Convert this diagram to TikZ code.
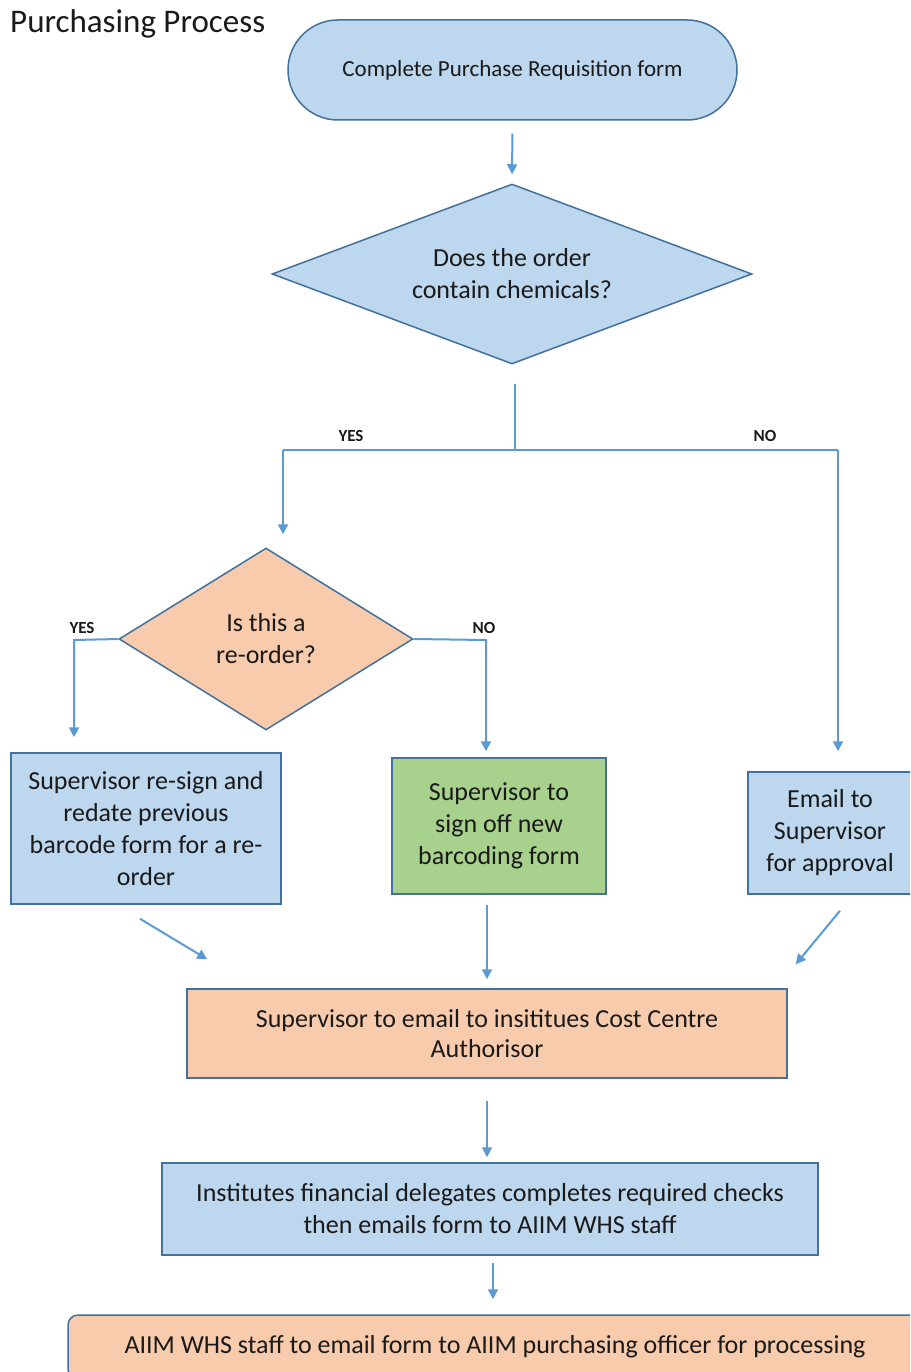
\documentclass[tikz,border=0pt]{standalone}
\usepackage{fontspec}
\setmainfont{Carlito}
\usetikzlibrary{shapes.geometric,arrows.meta,calc}
\definecolor{bfill}{HTML}{BDD7EE}
\definecolor{ofill}{HTML}{F8CBAD}
\definecolor{gfill}{HTML}{A9D18E}
\definecolor{bord}{HTML}{41719C}
\definecolor{arrc}{HTML}{5B9BD5}
\definecolor{txt}{HTML}{1A1A1A}
\begin{document}
\begin{tikzpicture}[x=1pt,y=-1pt,
  box/.style={draw=bord, line width=1.5pt, align=center, inner sep=0pt, text=txt, font=\fontsize{26}{32}\selectfont},
  dia/.style={box, shape=diamond},
  arr/.style={draw=arrc, line width=2pt, -{Triangle[width=10pt,length=10pt]}},
  ln/.style={draw=arrc, line width=2pt},
  lab/.style={font=\fontsize{17}{20}\selectfont\bfseries, inner sep=0pt, text=txt}]
\useasboundingbox (0,0) rectangle (910,1372);
\clip (0,0) rectangle (910,1372);
\fill[white] (0,0) rectangle (910,1372);

\node[anchor=base west, font=\fontsize{33}{36}\selectfont, inner sep=0pt, text=txt] (title) at (10,33) {Purchasing Process};

\node[box, fill=bfill, rounded corners=50pt, minimum width=449pt, minimum height=100pt, font=\fontsize{23}{28}\selectfont] (term) at (512.5,70) {Complete Purchase Requisition form};

\node[dia, fill=bfill, shape aspect=2.67, minimum width=480pt, minimum height=180pt] (d1) at (512,274) {Does the order\\contain chemicals?};

\node[dia, fill=ofill, shape aspect=1.6, minimum width=294pt, minimum height=182pt] (d2) at (266,639) {Is this a\\re-order?};

\node[box, fill=bfill, minimum width=270pt, minimum height=151pt] (boxA) at (146,828.5) {Supervisor re-sign and\\redate previous\\barcode form for a re-\\order};
\node[box, fill=gfill, minimum width=214pt, minimum height=136pt] (boxB) at (499,826) {Supervisor to\\sign off new\\barcoding form};
\node[box, fill=bfill, minimum width=164pt, minimum height=122pt] (boxC) at (830,833) {Email to\\Supervisor\\for approval};

\node[box, fill=ofill, minimum width=600pt, minimum height=89pt, font=\fontsize{26}{30}\selectfont] (boxD) at (487,1033.5) {Supervisor to email to insititues Cost Centre\\Authorisor};
\node[box, fill=bfill, minimum width=656pt, minimum height=92pt] (boxE) at (490,1209) {Institutes financial delegates completes required checks\\then emails form to AIIM WHS staff};
\node[box, fill=ofill, rounded corners=10pt, minimum width=854pt, minimum height=64pt] (boxF) at (495,1347) {AIIM WHS staff to email form to AIIM purchasing officer for processing};

% connectors
\draw[arr, shorten <=13pt, shorten >=9pt] (term.south) -- (d1.north);

\coordinate (j) at (515,450);
\coordinate (jl) at (283,450);
\coordinate (jr) at (838,450);
\draw[ln] ($(d1.south)+(3,19)$) -- (j);
\draw[ln] (jl) -- (jr);
\draw[arr, shorten >=13pt] (jl) -- (d2.north -| jl);
\draw[arr, shorten >=20pt] (jr) -- (jr |- boxC.north);

\coordinate (yl) at (74,640);
\coordinate (nr) at (486,640);
\draw[arr, shorten >=15pt] (d2.west) -- (yl) -- (yl |- boxA.north);
\draw[arr, shorten >=6pt] (d2.east) -- (nr) -- (nr |- boxB.north);

\draw[arr] ($(boxA.south)+(-6,14)$) -- ($(boxD.north west)+(21,-29)$);
\draw[arr] ($(boxB.south)+(-12,10)$) -- ($(boxD.north)+(0,-9)$);
\draw[arr] ($(boxC.south)+(10,16)$) -- ($(boxD.north east)+(8,-24)$);
\draw[arr, shorten <=22pt, shorten >=5pt] (boxD.south) -- (boxD.south |- boxE.north);
\draw[arr, shorten <=7pt, shorten >=15pt] ($(boxE.south)+(3,0)$) -- ($(boxF.north)+(-2,0)$);

% labels
\node[lab] (yes1) at (351,436) {YES};
\node[lab] (no1) at (765,436) {NO};
\node[lab] (yes2) at (82,628) {YES};
\node[lab] (no2) at (484,628) {NO};
\end{tikzpicture}
\end{document}
